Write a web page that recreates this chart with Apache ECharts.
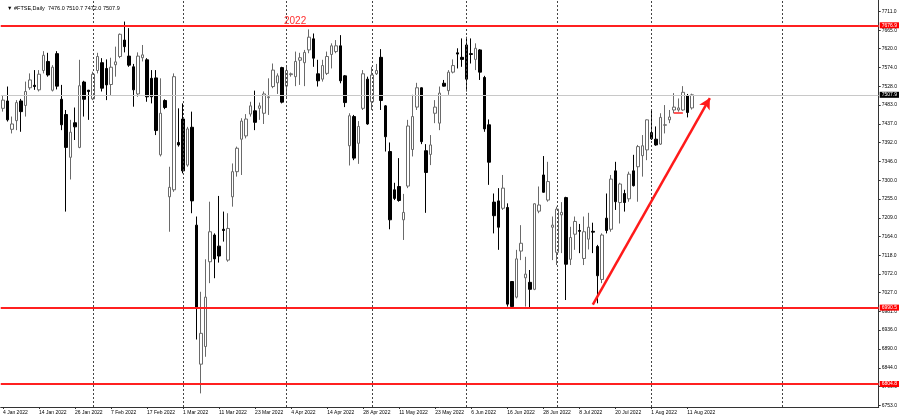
<!DOCTYPE html>
<html>
<head>
<meta charset="utf-8">
<script src="https://cdn.jsdelivr.net/npm/echarts@6/dist/echarts.min.js"></script>
<style>
html,body{margin:0;padding:0;background:#fff;}
#chart{width:900px;height:419px;}
</style>
</head>
<body>
<div id="chart"></div>
<script>
// Trading days (UK calendar) Jan 4 - Aug 12, 2022
const dates = [
'4 Jan 2022','5 Jan 2022','6 Jan 2022','7 Jan 2022','10 Jan 2022','11 Jan 2022','12 Jan 2022','13 Jan 2022','14 Jan 2022','17 Jan 2022',
'18 Jan 2022','19 Jan 2022','20 Jan 2022','21 Jan 2022','24 Jan 2022','25 Jan 2022','26 Jan 2022','27 Jan 2022','28 Jan 2022','31 Jan 2022',
'1 Feb 2022','2 Feb 2022','3 Feb 2022','4 Feb 2022','7 Feb 2022','8 Feb 2022','9 Feb 2022','10 Feb 2022','11 Feb 2022','14 Feb 2022',
'15 Feb 2022','16 Feb 2022','17 Feb 2022','18 Feb 2022','21 Feb 2022','22 Feb 2022','23 Feb 2022','24 Feb 2022','25 Feb 2022','28 Feb 2022',
'1 Mar 2022','2 Mar 2022','3 Mar 2022','4 Mar 2022','7 Mar 2022','8 Mar 2022','9 Mar 2022','10 Mar 2022','11 Mar 2022','14 Mar 2022',
'15 Mar 2022','16 Mar 2022','17 Mar 2022','18 Mar 2022','21 Mar 2022','22 Mar 2022','23 Mar 2022','24 Mar 2022','25 Mar 2022','28 Mar 2022',
'29 Mar 2022','30 Mar 2022','31 Mar 2022','1 Apr 2022','4 Apr 2022','5 Apr 2022','6 Apr 2022','7 Apr 2022','8 Apr 2022','11 Apr 2022',
'12 Apr 2022','13 Apr 2022','14 Apr 2022','19 Apr 2022','20 Apr 2022','21 Apr 2022','22 Apr 2022','25 Apr 2022','26 Apr 2022','27 Apr 2022',
'28 Apr 2022','29 Apr 2022','3 May 2022','4 May 2022','5 May 2022','6 May 2022','9 May 2022','10 May 2022','11 May 2022','12 May 2022',
'13 May 2022','16 May 2022','17 May 2022','18 May 2022','19 May 2022','20 May 2022','23 May 2022','24 May 2022','25 May 2022','26 May 2022',
'27 May 2022','30 May 2022','31 May 2022','1 Jun 2022','6 Jun 2022','7 Jun 2022','8 Jun 2022','9 Jun 2022','10 Jun 2022','13 Jun 2022',
'14 Jun 2022','15 Jun 2022','16 Jun 2022','17 Jun 2022','20 Jun 2022','21 Jun 2022','22 Jun 2022','23 Jun 2022','24 Jun 2022','27 Jun 2022',
'28 Jun 2022','29 Jun 2022','30 Jun 2022','1 Jul 2022','4 Jul 2022','5 Jul 2022','6 Jul 2022','7 Jul 2022','8 Jul 2022','11 Jul 2022',
'12 Jul 2022','13 Jul 2022','14 Jul 2022','15 Jul 2022','18 Jul 2022','19 Jul 2022','20 Jul 2022','21 Jul 2022','22 Jul 2022','25 Jul 2022',
'26 Jul 2022','27 Jul 2022','28 Jul 2022','29 Jul 2022','1 Aug 2022','2 Aug 2022','3 Aug 2022','4 Aug 2022','5 Aug 2022','8 Aug 2022',
'9 Aug 2022','10 Aug 2022','11 Aug 2022','12 Aug 2022'
];
const futureSlots = 41; // empty space to the right of the last bar

const opens = [
7475,7493,7424,7445,7493,7482,7525,7531,7520,7567,7589,7519,7608,7497,7460,7356,7440,7380,7539,7519,
7498,7567,7586,7572,7533,7581,7601,7641,7602,7576,7510,7598,7593,7548,7549,7362,7494,7260,7277,7392,
7449,7337,7429,7191,6853,6896,7102,7167,7140,7181,7106,7260,7321,7400,7408,7461,7469,7475,7463,7501,
7528,7537,7574,7529,7557,7552,7592,7586,7617,7644,7559,7546,7560,7606,7613,7627,7554,7384,7455,7390,
7475,7546,7491,7559,7599,7481,7370,7277,7285,7204,7286,7375,7478,7525,7372,7363,7463,7439,7536,7518,
7563,7610,7599,7629,7608,7594,7617,7550,7435,7247,7250,7232,7234,7054,7016,7128,7063,7052,7035,7225,
7313,7252,7186,7125,7216,7258,7108,7169,7178,7110,7157,7176,7139,7059,7208,7181,7323,7246,7268,7255,
7323,7333,7360,7374,7416,7400,7388,7434,7447,7471,7471,7471,7506,7476
];
const highs = [
7507,7528,7455,7495,7498,7540,7560,7568,7568,7614,7610,7580,7614,7532,7471,7447,7477,7593,7542,7520,
7564,7610,7597,7594,7598,7625,7657,7686,7670,7583,7611,7629,7597,7568,7568,7548,7497,7333,7560,7475,
7487,7430,7467,7212,7029,7108,7248,7171,7262,7224,7220,7341,7382,7451,7461,7491,7518,7489,7516,7548,
7584,7560,7576,7576,7562,7613,7610,7617,7667,7657,7593,7593,7613,7633,7641,7653,7556,7463,7459,7444,
7568,7552,7576,7583,7619,7483,7392,7294,7354,7267,7447,7508,7537,7526,7388,7410,7495,7528,7544,7568,
7594,7621,7645,7649,7645,7633,7619,7554,7448,7268,7281,7313,7244,7054,7131,7191,7114,7082,7244,7285,
7359,7345,7212,7236,7247,7260,7187,7212,7194,7212,7221,7197,7143,7171,7268,7313,7345,7294,7277,7321,
7362,7386,7410,7448,7471,7431,7463,7483,7471,7512,7499,7529,7510,7510.7
];
const lows = [
7467,7443,7414,7422,7418,7455,7520,7520,7516,7560,7552,7516,7521,7422,7224,7302,7398,7378,7455,7447,
7495,7560,7516,7495,7507,7552,7597,7611,7576,7479,7503,7589,7491,7487,7410,7358,7473,7175,7272,7382,
7317,7333,7220,6913,6782,6871,7050,7062,7100,7151,7102,7236,7309,7313,7402,7455,7422,7447,7437,7459,
7524,7510,7487,7499,7552,7529,7532,7529,7609,7576,7528,7540,7556,7572,7609,7536,7478,7336,7349,7340,
7471,7435,7471,7556,7471,7370,7181,7252,7248,7155,7281,7358,7471,7388,7221,7337,7439,7422,7528,7508,
7560,7572,7576,7516,7584,7568,7544,7418,7289,7171,7131,7228,6993,6991,7013,7106,6993,6991,7033,7220,
7270,7248,7106,7094,7123,7009,7094,7131,7123,7094,7132,7123,7001,7050,7171,7175,7228,7195,7224,7248,
7285,7248,7309,7349,7398,7384,7386,7414,7439,7463,7467,7469,7453,7472
];
const closes = [
7495,7447,7437,7489,7467,7516,7544,7528,7558,7604,7556,7575,7529,7435,7380,7417,7430,7530,7497,7516,
7558,7601,7524,7532,7575,7588,7655,7625,7580,7520,7602,7605,7503,7503,7421,7463,7477,7283,7552,7386,
7323,7425,7250,6990.5,6928,7016,7175,7109,7116,7178,7183,7321,7378,7444,7449,7481,7441,7481,7510,7503,
7568,7554,7490,7567,7559,7589,7598,7611,7648,7597,7542,7579,7601,7627,7627,7542,7489,7457,7354,7431,
7559,7437,7556,7567,7494,7406,7204,7256,7251,7222,7432,7455,7525,7394,7319,7386,7478,7512,7529,7563,
7579,7607,7594,7546,7606,7621,7563,7425,7344,7214,7186,7281,6999,6993,7109,7147,7072,7035,7243,7240,
7271,7297,7191,7230,7222,7096,7161,7200,7176,7175,7186,7174,7068,7167,7178,7303,7248,7291,7246,7315,
7287,7382,7384,7447,7401,7386,7453,7435,7454,7478,7476,7514,7465,7507.9
];

// y-axis tick labels
const yTicks = [6753,6799,6844,6890,6936,6981,7027,7072,7118,7164,7209,7255,7300,7346,7392,7437,7483,7528,7574,7620,7665,7711];
// horizontal levels
const resistance = 7676.9;
const support1 = 6990.5;
const support2 = 6804.8;
const bidPrice = 7507.9;
// monthly period separators (bar index)
const separators = [20,40,63,82,103,123,144,173];
// trend arrow [index, price]
const arrowStart = [131, 6998];
const arrowEnd = [157, 7500];
// short red segment
const segStart = [149, 7464];
const segEnd = [151, 7464];

const cats = dates.concat(new Array(futureSlots).fill(''));
const candles = dates.map((d, i) => [opens[i], closes[i], lows[i], highs[i]]);

const FONT = 'Liberation Sans';
const chart = echarts.init(document.getElementById('chart'), null, {renderer: 'canvas'});

function levelLine(val, bg, color, width) {
  return {
    yAxis: val,
    lineStyle: {color: color, width: width, type: 'solid'},
    label: {
      show: true, position: 'end', distance: 1,
      formatter: val.toFixed(1),
      backgroundColor: bg, color: '#fff',
      fontSize: 5, fontFamily: FONT, padding: [1, 2, 0, 2]
    }
  };
}

const markData = [];
separators.forEach(s => markData.push({
  xAxis: s,
  lineStyle: {color: '#444', width: 1, type: [2, 2]},
  label: {show: false}
}));
markData.push({
  yAxis: bidPrice,
  lineStyle: {color: '#c8c8c8', width: 1, type: 'solid'},
  label: {show: true, position: 'end', distance: 1, formatter: bidPrice.toFixed(1),
          backgroundColor: '#000', color: '#fff', fontSize: 5, fontFamily: FONT, padding: [1, 2, 0, 2]}
});
markData.push(levelLine(resistance, '#ff0000', '#ff2020', 2));
markData.push(levelLine(support1, '#ff0000', '#ff2020', 2));
markData.push(levelLine(support2, '#ff0000', '#ff2020', 2));
markData.push([
  {coord: segStart, symbol: 'none', lineStyle: {color: '#ff2020', width: 1.5, type: 'solid'}, label: {show: false}},
  {coord: segEnd, symbol: 'none'}
]);
markData.push([
  {coord: arrowStart, symbol: 'none', lineStyle: {color: '#ff1a1a', width: 2.5, type: 'solid'}, label: {show: false}},
  {coord: arrowEnd, symbol: 'arrow', symbolSize: [9, 11]}
]);

const option = {
  animation: false,
  backgroundColor: '#ffffff',
  textStyle: {fontFamily: FONT},
  title: [
    {text: '\u25BC #FTSE,Daily  7476.0 7510.7 7472.0 7507.9', left: 2, top: 0,
     textStyle: {fontSize: 5.5, fontWeight: 'normal', color: '#000', fontFamily: FONT}},
    {text: '2022', left: 279, top: 11,
     textStyle: {fontSize: 10, fontWeight: 'normal', color: '#ff3030', fontFamily: FONT}}
  ],
  grid: {left: -3, right: 20, top: 0, bottom: 12, containLabel: false},
  xAxis: {
    type: 'category',
    data: cats,
    boundaryGap: true,
    axisLine: {show: true, lineStyle: {color: '#333', width: 1}},
    axisTick: {show: true, alignWithLabel: true, length: 2,
               interval: (i) => i % 8 === 0 && i < dates.length,
               lineStyle: {color: '#333'}},
    axisLabel: {show: true, interval: (i) => i % 8 === 0 && i < dates.length,
                align: 'left', fontSize: 5, color: '#000', margin: 3, fontFamily: FONT},
    splitLine: {show: false}
  },
  yAxis: {
    type: 'value',
    position: 'right',
    min: 6748.9,
    max: 7738.4,
    axisLine: {show: true, lineStyle: {color: '#333', width: 1}},
    axisTick: {show: true, length: 2, customValues: yTicks, lineStyle: {color: '#333'}},
    axisLabel: {show: true, customValues: yTicks, formatter: (v) => v.toFixed(1),
                fontSize: 5, color: '#000', margin: 3, fontFamily: FONT},
    splitLine: {show: false}
  },
  series: [{
    type: 'candlestick',
    data: candles,
    barWidth: 3,
    itemStyle: {
      color: '#ffffff', color0: '#000000',
      borderColor: '#6a6a6a', borderColor0: '#000000',
      borderWidth: 1
    },
    markLine: {
      silent: true,
      symbol: ['none', 'none'],
      animation: false,
      data: markData
    }
  }]
};
chart.setOption(option);
</script>
</body>
</html>
